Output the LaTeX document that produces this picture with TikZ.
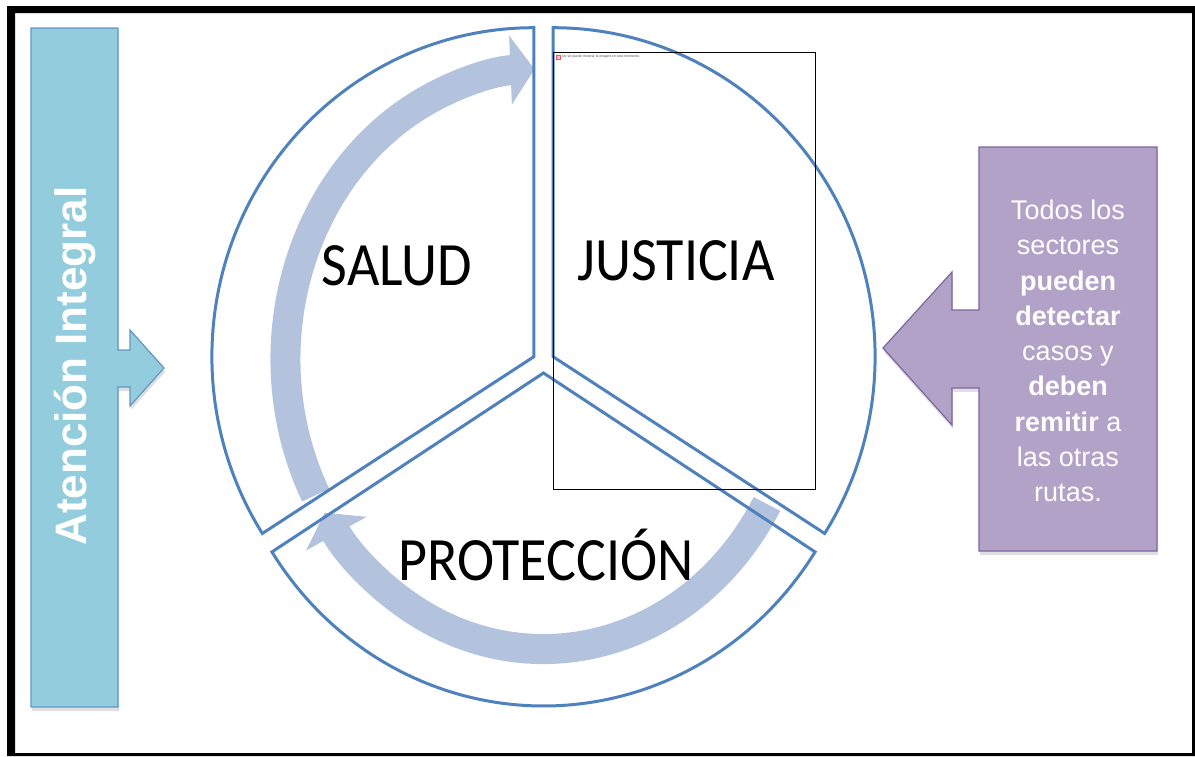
\documentclass[tikz,border=0pt]{standalone}
\usepackage{fontspec}
\setmainfont{Liberation Sans}
\newfontfamily\sectorfont{Carlito}
\usetikzlibrary{arrows.meta, calc, shadows}

\definecolor{ringcolor}{RGB}{79, 129, 189}
\definecolor{flowcolor}{RGB}{179, 195, 222}
\definecolor{barcolor}{RGB}{147, 205, 221}
\definecolor{barborder}{RGB}{98, 150, 200}
\definecolor{notecolor}{RGB}{178, 162, 199}
\definecolor{noteborder}{RGB}{128, 100, 162}

\tikzset{
    % Pie sectors
    sector/.style={draw=ringcolor, line width=3pt},
    sectorlabel/.style={
        font=\sectorfont\fontsize{56}{60}\selectfont, text=black,
        inner sep=0pt, anchor=base, yscale=1.1
    },
    % Circular flow arrows
    flowarrow/.style={-{Triangle[length=24pt, width=68pt]}, line width=30pt, flowcolor},
    % Block arrows
    barshape/.style={
        fill=barcolor, draw=barborder, line width=1.2pt,
        drop shadow={shadow xshift=1pt, shadow yshift=-4pt, opacity=0.25}
    },
    noteshape/.style={
        fill=notecolor, draw=noteborder, line width=1.2pt,
        drop shadow={shadow xshift=1pt, shadow yshift=-4pt, opacity=0.25}
    },
    % Labels
    bartext/.style={font=\bfseries\fontsize{44}{48}\selectfont, text=white, inner sep=0pt},
    notetext/.style={font=\fontsize{27}{35.25}\selectfont, text=white, align=center, inner sep=0pt},
    boxnote/.style={font=\fontsize{3.5}{4}\selectfont, text=black!70, inner sep=0pt},
}

\begin{document}
\begin{tikzpicture}[x=1pt, y=-1pt]

\useasboundingbox (0,0) rectangle (1195,756);
\fill[white] (0,0) rectangle (1195,756);

% ===== Frame =====
\fill[black, even odd rule] (7,6) rectangle (1195,756) (15,13) rectangle (1192,753);

% ===== Left block arrow =====
\draw[barshape] (31,28) -- (118,28) -- (118,350) -- (130,350) -- (130,330) -- (164,368)
    -- (130,406) -- (130,387) -- (118,387) -- (118,707) -- (31,707) -- cycle;
\node (atencion) [bartext, rotate=90] at (75,366) {Atención Integral};

% ===== Right block arrow =====
\draw[noteshape] (979,147) -- (1157,147) -- (1157,551) -- (979,551) -- (979,388) -- (952,388)
    -- (952,425) -- (883,348) -- (952,272) -- (952,310) -- (979,310) -- cycle;
\node (nota) [notetext] at (1068,351) {
    Todos los\\sectores\\\textbf{pueden}\\\textbf{detectar}\\casos y\\
    \textbf{deben}\\\textbf{remitir} a\\las otras\\rutas.
};

% ===== Circular flow =====
\coordinate (flow) at (543.5,359);
\draw[flowarrow] ($(flow)+(30:258 and 290)$) arc[start angle=30, end angle=148, x radius=258, y radius=290];
\draw[flowarrow] ($(flow)+(152:258 and 290)$) arc[start angle=152, end angle=268, x radius=258, y radius=290];

% ===== Sectors =====
\coordinate (salud corner) at (533.9,356.7);
\coordinate (justicia corner) at (553.1,356.7);
\coordinate (proteccion corner) at (543.5,373);

\draw[sector] (salud corner) -- ++(270:322 and 329)
    arc[start angle=270, end angle=147.5, x radius=322, y radius=329] -- cycle;
\draw[sector] (justicia corner) -- ++(270:322 and 329)
    arc[start angle=-90, end angle=32.5, x radius=322, y radius=329] -- cycle;
\draw[sector] (proteccion corner) -- ++(32.5:322 and 333)
    arc[start angle=32.5, end angle=147.5, x radius=322, y radius=333] -- cycle;

\node (salud) [sectorlabel] at (397,285) {SALUD};
\node (justicia) [sectorlabel] at (676,280) {JUSTICIA};
\node (proteccion) [sectorlabel] at (546,580) {PROTECCIÓN};

% ===== Missing image placeholder =====
\node (imgbox) [draw, line width=1.3pt, minimum width=262pt, minimum height=437pt,
    anchor=north west, inner sep=0pt] at (553,52) {};
\node (imgicon) [draw=red!70, fill=red!20, minimum size=4pt, inner sep=0pt] at (558,57) {};
\node (imgnote) [boxnote, anchor=west] at (562,57) {No se puede mostrar la imagen en este momento.};

\end{tikzpicture}
\end{document}
